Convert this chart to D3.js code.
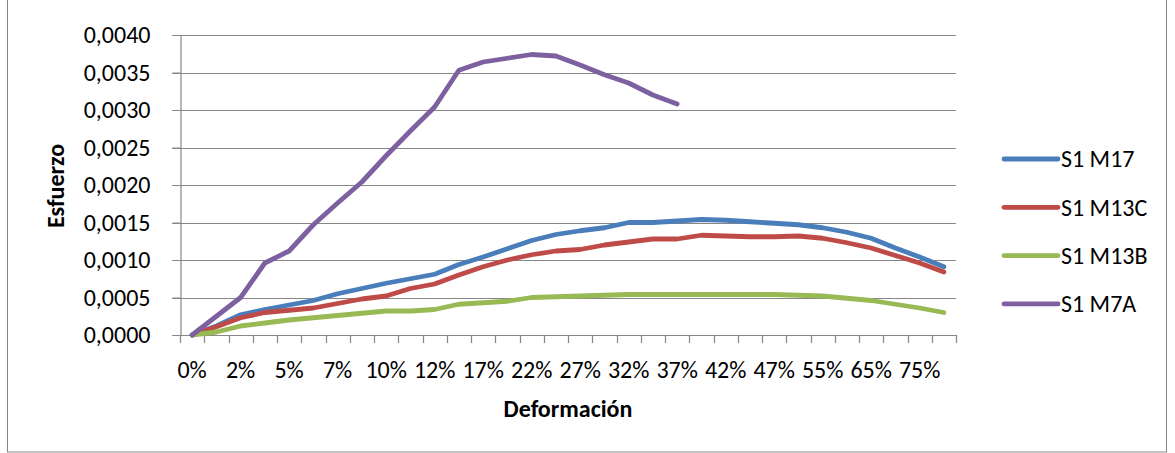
<!DOCTYPE html>
<html>
<head>
<meta charset="utf-8">
<script src="https://cdn.jsdelivr.net/npm/d3@7"></script>
<style>
  html, body { margin: 0; padding: 0; background: #fff; }
  svg text { font-family: Carlito, Calibri, "Open Sans", sans-serif; fill: #000; }
</style>
</head>
<body>
<svg id="chart" width="1175" height="453"></svg>
<script>
// ---- data ----
const categories = ["0%","1%","2%","4%","5%","6%","7%","9%","10%","11%","12%","15%","17%","20%","22%","25%",
                    "27%","30%","32%","35%","37%","40%","42%","45%","47%","50%","55%","60%","65%","70%","75%","80%"];
const shownLabels = ["0%","2%","5%","7%","10%","12%","17%","22%","27%","32%","37%","42%","47%","55%","65%","75%"];
const yTicks = [0, 0.0005, 0.001, 0.0015, 0.002, 0.0025, 0.003, 0.0035, 0.004];
const seriesNames = ["S1 M17", "S1 M13C", "S1 M13B", "S1 M7A"];
const s1m17 = [0, 0.00012, 0.00027, 0.00034, 0.0004, 0.00046, 0.00055, 0.00062, 0.00069, 0.00075, 0.00081, 0.00094,
               0.00104, 0.00115, 0.00126, 0.00134, 0.00139, 0.00143, 0.0015, 0.0015, 0.00152, 0.00154, 0.00153, 0.00151,
               0.00149, 0.00147, 0.00143, 0.00137, 0.00129, 0.00116, 0.00104, 0.00091];
const s1m13c = [0, 0.00011, 0.00023, 0.0003, 0.00033, 0.00036, 0.00042, 0.00048, 0.00052, 0.00062, 0.00068, 0.0008,
                0.00091, 0.001, 0.00107, 0.00112, 0.00114, 0.0012, 0.00124, 0.00128, 0.00128, 0.00133, 0.00132, 0.00131,
                0.00131, 0.00132, 0.00129, 0.00123, 0.00116, 0.00106, 0.00096, 0.00084];
const s1m13b = [0, 0.00004, 0.00012, 0.00016, 0.0002, 0.00023, 0.00026, 0.00029, 0.00032, 0.00032, 0.00034, 0.00041,
                0.00043, 0.00045, 0.0005, 0.00051, 0.00052, 0.00053, 0.00054, 0.00054, 0.00054, 0.00054, 0.00054, 0.00054,
                0.00054, 0.00053, 0.00052, 0.00049, 0.00046, 0.00041, 0.00036, 0.0003];
const s1m7a = [0, 0.00025, 0.0005, 0.00096, 0.00112, 0.00147, 0.00176, 0.00204, 0.00239, 0.00272, 0.00304, 0.00353,
               0.00364, 0.00369, 0.00374, 0.00372, 0.0036, 0.00347, 0.00336, 0.0032, 0.00308];
const seriesValues = [s1m17, s1m13c, s1m13b, s1m7a];
const colors = ["#4A7EBB", "#BE4B48", "#98B954", "#7D60A0"];

// ---- layout ----
const svg = d3.select("#chart");
const plotLeft = 180, plotRight = 956, plotTop = 35, plotBottom = 335;
const fontSize = 24;
const gridColor = "#878787";

svg.append("rect").attr("x", 7.5).attr("y", -1).attr("width", 1159).attr("height", 453)
  .attr("fill", "none").attr("stroke", gridColor).attr("stroke-width", 1);

const x = d3.scaleBand().domain(categories).range([plotLeft, plotRight]).padding(0);
const y = d3.scaleLinear().domain([0, 0.004]).range([plotBottom, plotTop]);

const loc = d3.formatLocale({decimal: ",", thousands: ".", grouping: [3], currency: ["", ""]});
const fmt = loc.format(".4f");

// gridlines (extend into tick area)
svg.append("g").selectAll("line").data(yTicks).join("line")
  .attr("x1", plotLeft - 8).attr("x2", plotRight)
  .attr("y1", d => Math.round(y(d)) + 0.5).attr("y2", d => Math.round(y(d)) + 0.5)
  .attr("stroke", gridColor).attr("stroke-width", 1.2);

// y axis
const yAxis = svg.append("g").attr("transform", `translate(${plotLeft + 0.5},0)`)
  .call(d3.axisLeft(y).tickValues(yTicks).tickFormat(fmt).tickSize(8).tickSizeOuter(0).tickPadding(22));
yAxis.select(".domain").attr("stroke", gridColor).attr("stroke-width", 1.2);
yAxis.selectAll(".tick line").attr("stroke", gridColor);
yAxis.selectAll("text").attr("font-size", fontSize).attr("font-family", 'Carlito, Calibri, "Open Sans", sans-serif');

// x axis
const xg = svg.append("g");
xg.append("line").attr("x1", plotLeft).attr("x2", plotRight).attr("y1", plotBottom + 0.5).attr("y2", plotBottom + 0.5)
  .attr("stroke", gridColor).attr("stroke-width", 1.2);
const boundaries = categories.map(c => x(c)).concat([plotRight]);
xg.selectAll("line.tk").data(boundaries).join("line").attr("class", "tk")
  .attr("x1", d => Math.round(d) + 0.5).attr("x2", d => Math.round(d) + 0.5)
  .attr("y1", plotBottom).attr("y2", plotBottom + 8)
  .attr("stroke", gridColor).attr("stroke-width", 1.2);
xg.selectAll("text").data(categories.filter(c => shownLabels.includes(c))).join("text")
  .attr("x", d => x(d) + x.bandwidth() / 2).attr("y", 378)
  .attr("text-anchor", "middle").attr("font-size", fontSize).text(d => d);

// axis titles
svg.append("text").attr("x", (plotLeft + plotRight) / 2).attr("y", 417).attr("text-anchor", "middle")
  .attr("font-size", fontSize).attr("font-weight", "bold").text("Deformación");
svg.append("text").attr("transform", "translate(64,186) rotate(-90)").attr("text-anchor", "middle")
  .attr("font-size", fontSize).attr("font-weight", "bold").text("Esfuerzo");

// lines
const line = d3.line().x((d, i) => x(categories[i]) + x.bandwidth() / 2).y(d => y(d));
seriesValues.forEach((vals, k) => {
  svg.append("path").datum(vals).attr("d", line)
    .attr("fill", "none").attr("stroke", colors[k]).attr("stroke-width", 4.8)
    .attr("stroke-linejoin", "round").attr("stroke-linecap", "round");
});

// legend
const lg = svg.append("g");
seriesNames.forEach((name, k) => {
  const ly = 159 + k * 48.3;
  lg.append("line").attr("x1", 1004).attr("x2", 1058).attr("y1", ly).attr("y2", ly)
    .attr("stroke", colors[k]).attr("stroke-width", 4.8).attr("stroke-linecap", "round");
  lg.append("text").attr("x", 1061).attr("y", ly).attr("dy", "0.35em")
    .attr("font-size", fontSize).text(name);
});
</script>
</body>
</html>
